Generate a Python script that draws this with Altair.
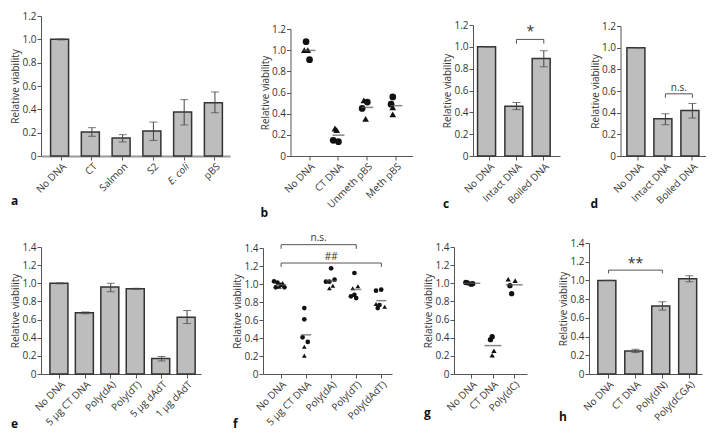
import altair as alt
import pandas as pd

FONT = "Open Sans"
TXT = "#333333"
AX = "#555555"
BAR_FILL = "#bdbdbd"
BAR_STROKE = "#333333"
ERR = "#444444"

# ---------------- data ----------------
# a
a_cats = ["No DNA", "CT", "Salmon", "S2", "E. coli", "pBS"]
a_vals = [1.0, 0.206, 0.154, 0.214, 0.377, 0.457]
a_lo = [0.995, 0.169, 0.120, 0.134, 0.266, 0.371]
a_hi = [1.003, 0.243, 0.183, 0.291, 0.483, 0.549]

# b
b_cats = ["No DNA", "CT DNA", "Unmeth pBS", "Meth pBS"]
b_cat = ["No DNA"] * 4 + ["CT DNA"] * 4 + ["Unmeth pBS"] * 4 + ["Meth pBS"] * 4
b_val = [1.0, 1.08, 1.0, 0.91, 0.148, 0.26, 0.245, 0.135,
         0.45, 0.526, 0.35, 0.51, 0.49, 0.558, 0.46, 0.394]
b_exp = ["Exp 2", "Exp 1", "Exp 2", "Exp 1", "Exp 1", "Exp 2", "Exp 2", "Exp 1",
         "Exp 1", "Exp 2", "Exp 2", "Exp 1", "Exp 1", "Exp 1", "Exp 2", "Exp 2"]
b_slot = ["s1", "s2", "s3", "s4", "s1", "s2", "s3", "s4",
          "s1", "s2", "s3", "s4", "s1", "s2", "s2", "s2"]

# c
c_cats = ["No DNA", "Intact DNA", "Boiled DNA"]
c_vals = [1.0, 0.456, 0.894]
c_lo = [1.0, 0.425, 0.817]
c_hi = [1.0, 0.490, 0.964]

# d
d_cats = ["No DNA", "Intact DNA", "Boiled DNA"]
d_vals = [1.0, 0.344, 0.420]
d_lo = [1.0, 0.289, 0.350]
d_hi = [1.0, 0.390, 0.485]

# e
e_cats = ["No DNA", "5 µg CT DNA", "Poly(dA)", "Poly(dT)", "5 µg dAdT", "1 µg dAdT"]
e_vals = [1.0, 0.674, 0.959, 0.940, 0.170, 0.626]
e_lo = [0.994, 0.664, 0.907, 0.935, 0.144, 0.556]
e_hi = [1.004, 0.684, 1.000, 0.945, 0.193, 0.700]

# f
f_cats = ["No DNA", "5 µg CT DNA", "Poly(dA)", "Poly(dT)", "Poly(dAdT)"]
f_cat = (["No DNA"] * 7 + ["5 µg CT DNA"] * 6 + ["Poly(dA)"] * 6
         + ["Poly(dT)"] * 6 + ["Poly(dAdT)"] * 6)
f_val = [1.03, 0.963, 1.015, 0.97, 0.99, 1.01, 0.963,
         0.407, 0.607, 0.733, 0.303, 0.204, 0.356,
         1.174, 1.026, 1.026, 1.048, 0.98, 0.952,
         1.122, 0.952, 0.974, 0.88, 0.863, 0.844,
         0.926, 0.937, 0.778, 0.767, 0.733, 0.748]
f_exp = ["Exp 1", "Exp 1", "Exp 3", "Exp 2", "Exp 3", "Exp 2", "Exp 3",
         "Exp 3", "Exp 1", "Exp 1", "Exp 2", "Exp 2", "Exp 3",
         "Exp 1", "Exp 3", "Exp 3", "Exp 1", "Exp 2", "Exp 2",
         "Exp 1", "Exp 2", "Exp 2", "Exp 3", "Exp 3", "Exp 3",
         "Exp 1", "Exp 1", "Exp 2", "Exp 3", "Exp 3", "Exp 2"]
f_slot = ["s1", "s2", "s3", "s4", "s5", "s6", "s7",
          "s3", "s4", "s4", "s4", "s4", "s6",
          "s5", "s2", "s4", "s7", "s6", "s4",
          "s4", "s3", "s6", "s4", "s2", "s5",
          "s2", "s5", "s2", "s4", "s3", "s7"]

# g
g_cats = ["No DNA", "CT DNA", "Poly(dC)"]
g_cat = ["No DNA"] * 4 + ["CT DNA"] * 4 + ["Poly(dC)"] * 4
g_val = [1.01, 1.005, 0.99, 0.995, 0.378, 0.411, 0.206, 0.257, 1.044, 1.029, 0.974, 0.885]
g_exp = ["Exp 1", "Exp 1", "Exp 1", "Exp 1", "Exp 1", "Exp 1", "Exp 2", "Exp 2",
         "Exp 2", "Exp 2", "Exp 1", "Exp 1"]
g_slot = ["s1", "s2", "s4", "s5", "s3", "s4", "s4", "s5", "s1", "s5", "s2", "s3"]

# h
h_cats = ["No DNA", "CT DNA", "Poly(dN)", "Poly(dCGA)"]
h_vals = [1.0, 0.246, 0.726, 1.018]
h_lo = [1.0, 0.229, 0.683, 0.986]
h_hi = [1.0, 0.264, 0.772, 1.050]

ticks12 = [0, 0.2, 0.4, 0.6, 0.8, 1.0, 1.2]
ticks14 = [0, 0.2, 0.4, 0.6, 0.8, 1.0, 1.2, 1.4]

LABEL_EXPR = "datum.value == 0 ? '0' : format(datum.value, '.1f')"


def xscale(cats, pi, po, align):
    return alt.Scale(domain=cats, paddingInner=pi, paddingOuter=po, align=align)


def yscale(ymax, H, top):
    return alt.Scale(domain=[0, ymax], range=[H, top], nice=False, zero=True)


def xaxis(domain_color=AX, domain_width=1, italic=None):
    kw = dict(title=None, labelAngle=-45, labelPadding=1, domainColor=domain_color,
              domainWidth=domain_width)
    if italic:
        kw["labelFontStyle"] = {"condition": {"test": f"datum.value === '{italic}'", "value": "italic"},
                                "value": "normal"}
    return alt.Axis(**kw)


def yaxis(ticks):
    return alt.Axis(title="Relative viability", values=ticks, labelExpr=LABEL_EXPR,
                    labelFlush=False, labelOverlap=False, labelPadding=1, titlePadding=1)


def brackets(xs, ys, xa, ya, specs):
    layers = []
    for (c1, c2, yb, yl, label, ylab, anchor, dx, fs) in specs:
        hdf = pd.DataFrame({"cat": [c1], "c2": [c2], "val": [yb]})
        layers.append(alt.Chart(hdf).mark_rule(color=AX, strokeWidth=1).encode(
            x=alt.X("cat:N", scale=xs, axis=xa), x2="c2:N",
            y=alt.Y("val:Q", scale=ys, axis=ya)))
        vdf = pd.DataFrame({"cat": [c1, c2], "val": [yl, yl], "v2": [yb, yb]})
        layers.append(alt.Chart(vdf).mark_rule(color=AX, strokeWidth=1).encode(
            x=alt.X("cat:N", scale=xs, axis=xa),
            y=alt.Y("val:Q", scale=ys, axis=ya), y2="v2:Q"))
        tdf = pd.DataFrame({"cat": [anchor], "val": [ylab], "t": [label]})
        layers.append(alt.Chart(tdf).mark_text(dx=dx, fontSize=fs, font=FONT, color=TXT,
                                               baseline="middle", align="center").encode(
            x=alt.X("cat:N", scale=xs, axis=xa),
            y=alt.Y("val:Q", scale=ys, axis=ya), text="t:N"))
    return layers


def letter_title(letter, dy):
    return alt.TitleParams(letter, orient="bottom", anchor="start", frame="group", dx=-30,
                           dy=dy, fontSize=12, fontWeight="bold", font=FONT, color="#111111",
                           offset=2)


def bar_panel(cats, vals, lo, hi, width, H, top, ymax, ticks, pi, po, align, letter, dy,
              xdc=AX, xdw=1, italic=None, specs=()):
    df = pd.DataFrame({"cat": cats, "val": vals, "lo": lo, "hi": hi})
    xs = xscale(cats, pi, po, align)
    ys = yscale(ymax, H, top)
    xa = xaxis(xdc, xdw, italic)
    ya = yaxis(ticks)
    base = alt.Chart(df)
    bars = base.mark_bar(fill=BAR_FILL, stroke=BAR_STROKE, strokeWidth=1.5).encode(
        x=alt.X("cat:N", scale=xs, axis=xa),
        y=alt.Y("val:Q", scale=ys, axis=ya))
    err = base.mark_rule(color=ERR, strokeWidth=1).encode(
        x=alt.X("cat:N", scale=xs, axis=xa), y=alt.Y("lo:Q", scale=ys, axis=ya), y2="hi:Q")
    cap_lo = base.mark_tick(color=ERR, size=8, thickness=1).encode(
        x=alt.X("cat:N", scale=xs, axis=xa), y=alt.Y("lo:Q", scale=ys, axis=ya))
    cap_hi = base.mark_tick(color=ERR, size=8, thickness=1).encode(
        x=alt.X("cat:N", scale=xs, axis=xa), y=alt.Y("hi:Q", scale=ys, axis=ya))
    layers = [bars, err, cap_lo, cap_hi] + brackets(xs, ys, xa, ya, specs)
    return alt.layer(*layers).properties(width=width, height=H, title=letter_title(letter, dy))


def dot_panel(cats, cat, val, exp, slot, slots, shapes, width, H, top, ymax, ticks,
              pi, po, align, letter, dy, size, mean_w, specs=()):
    df = pd.DataFrame({"cat": cat, "val": val, "exp": exp, "slot": slot})
    xs = xscale(cats, pi, po, align)
    ys = yscale(ymax, H, top)
    xa = xaxis()
    ya = yaxis(ticks)
    base = alt.Chart(df)
    pts = base.mark_point(filled=True, color="#111111", opacity=1, size=size).encode(
        x=alt.X("cat:N", scale=xs, axis=xa),
        xOffset=alt.XOffset("slot:N", scale=alt.Scale(domain=slots)),
        y=alt.Y("val:Q", scale=ys, axis=ya),
        shape=alt.Shape("exp:N", scale=alt.Scale(domain=list(shapes.keys()),
                                                 range=list(shapes.values())), legend=None))
    mean = base.transform_aggregate(val="mean(val)", groupby=["cat"]).mark_tick(
        color="#555555", size=mean_w, thickness=1.5).encode(
        x=alt.X("cat:N", scale=xs, axis=xa), y=alt.Y("val:Q", scale=ys, axis=ya))
    layers = [pts, mean] + brackets(xs, ys, xa, ya, specs)
    return alt.layer(*layers).properties(width=width, height=H, title=letter_title(letter, dy))


HT = 140
HB = 131

pa = bar_panel(a_cats, a_vals, a_lo, a_hi, 189, HT, 0, 1.2, ticks12, 0.314, 0.229, 0.68, "a", 0,
               xdc="#9a9a9a", xdw=2, italic="E. coli")
pb = dot_panel(b_cats, b_cat, b_val, b_exp, b_slot, ["s1", "s2", "s3", "s4"],
               {"Exp 1": "circle", "Exp 2": "triangle-up"}, 122, HT, 13, 1.2, ticks12,
               0.58, 0.4, 0.56, "b", -4, 45, 12)
pc = bar_panel(c_cats, c_vals, c_lo, c_hi, 87, HT, 9, 1.2, ticks12, 0.148, 0.167, 0.5, "c", -9,
               specs=[("Intact DNA", "Boiled DNA", 1.068, 1.03, "*", 1.14, "Boiled DNA", -13.5, 14)])
pd_ = bar_panel(d_cats, d_vals, d_lo, d_hi, 85, HT, 10, 1.2, ticks12, 0.148, 0.148, 0.8, "d", -9,
                specs=[("Intact DNA", "Boiled DNA", 0.574, 0.537, "n.s.", 0.63, "Boiled DNA", -13.5, 10)])

pe = bar_panel(e_cats, e_vals, e_lo, e_hi, 160, HB, 4, 1.4, ticks14, 0.22, 0.254, 0.69, "e", -10)
pf = dot_panel(f_cats, f_cat, f_val, f_exp, f_slot, ["s1", "s2", "s3", "s4", "s5", "s6", "s7"],
               {"Exp 1": "circle", "Exp 2": "square", "Exp 3": "diamond"}, 129, HB, 5, 1.4, ticks14,
               0.366, 0.257, 0.79, "f", -10, 22, 10,
               specs=[("No DNA", "Poly(dT)", 1.437, 1.39, "n.s.", 1.51, "Poly(dA)", -12.6, 10),
                      ("No DNA", "Poly(dAdT)", 1.233, 1.19, "##", 1.30, "Poly(dA)", 0, 10)])
pg = dot_panel(g_cats, g_cat, g_val, g_exp, g_slot, ["s1", "s2", "s3", "s4", "s5"],
               {"Exp 1": "circle", "Exp 2": "square"}, 73, HB, 4, 1.4, ticks14,
               0.35, 0.395, 0.65, "g", -7, 28, 17)
ph = bar_panel(h_cats, h_vals, h_lo, h_hi, 113, HB, 0, 1.4, ticks14, 0.206, 0.2, 0.82, "h", -12,
               specs=[("No DNA", "Poly(dN)", 1.11, 1.075, "**", 1.18, "CT DNA", 0, 14)])

top_row = alt.hconcat(pa, pb, pc, pd_, spacing=29.5)
bot_row = alt.hconcat(pe, pf, pg, ph, spacing=31)

chart = alt.vconcat(top_row, bot_row, spacing=14).properties(
    padding={"left": 2, "top": 3, "right": 0, "bottom": 0}
).configure_view(stroke=None).configure_axis(
    grid=False, domainColor=AX, tickColor=AX, tickSize=4, labelFont=FONT, titleFont=FONT,
    labelFontSize=10, titleFontSize=10, labelColor=TXT, titleColor=TXT,
    titleFontWeight="normal", labelPadding=2, titlePadding=5
)

chart.save("out.html", embed_options={"renderer": "svg", "actions": False})
